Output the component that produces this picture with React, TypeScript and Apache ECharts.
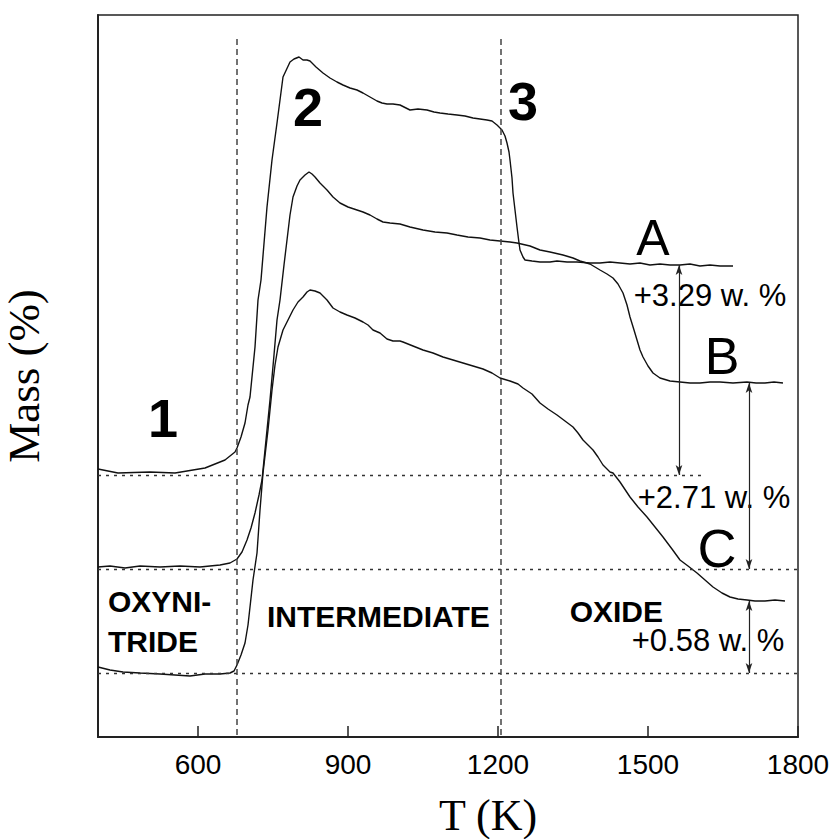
import React, { useEffect, useRef } from "react";
import * as echarts from "echarts";

// Temperature (K) and mass signal (arbitrary units)
const T_A = [400,440,504,554,614,654,674,678,686,694,700,704,714,720,726,738,748,758,770,784,792,802,810,818,824,836,850,864,878,890,904,918,930,944,958,968,978,990,1004,1024,1040,1058,1072,1084,1100,1118,1134,1150,1164,1178,1188,1198,1208,1214,1218,1222,1224,1228,1230,1234,1238,1242,1244,1250,1254,1268,1284,1304,1318,1338,1358,1384,1404,1424,1444,1464,1484,1504,1524,1544,1564,1584,1604,1624,1644,1670];
const M_A = [26.8,26.4,26.5,26.4,26.9,27.7,28.5,28.9,30.0,31.4,33.2,34.0,39.0,43.7,45.7,53.0,57.7,61.4,66.0,67.5,67.8,68.0,67.7,67.7,67.6,67.0,66.4,65.9,65.5,65.2,64.9,64.7,64.4,64.0,63.6,63.4,63.3,63.3,63.2,62.7,62.8,62.7,62.5,62.4,62.3,62.2,62.1,61.9,61.8,61.7,61.6,61.2,60.7,60.1,59.4,58.5,57.7,55.9,54.4,52.7,51.0,49.4,48.7,48.0,47.7,47.6,47.5,47.5,47.6,47.5,47.5,47.4,47.4,47.5,47.4,47.3,47.4,47.2,47.3,47.2,47.2,47.3,47.1,47.2,47.1,47.1];

const T_B = [400,424,454,484,524,564,604,644,664,678,688,698,706,714,722,728,736,744,752,758,764,772,778,784,790,798,804,814,822,828,834,844,858,870,884,900,918,930,944,958,970,984,1004,1024,1050,1074,1098,1118,1140,1164,1184,1204,1224,1238,1264,1284,1304,1330,1350,1364,1384,1404,1418,1430,1440,1450,1458,1464,1472,1478,1484,1490,1500,1510,1524,1544,1564,1584,1604,1624,1644,1670,1698,1716,1734,1752,1770];
const M_B = [17.0,17.1,16.9,17.1,17.0,17.1,17.0,17.2,17.4,17.8,18.5,19.7,20.9,22.4,24.2,25.7,29.7,33.7,38.2,41.7,43.7,47.2,49.7,52.2,54.0,55.1,55.7,56.2,56.5,56.3,56.0,55.4,54.7,54.0,53.4,53.0,52.7,52.5,52.2,51.8,51.5,51.4,51.3,51.0,50.7,50.5,50.4,50.2,50.0,49.9,49.7,49.6,49.5,49.4,49.1,48.7,48.5,48.2,47.9,47.6,47.3,46.7,46.3,45.9,45.3,44.4,43.2,42.0,40.7,39.7,38.7,38.0,37.1,36.4,35.9,35.6,35.5,35.4,35.4,35.5,35.5,35.4,35.5,35.4,35.4,35.5,35.4];

const T_C = [400,424,450,484,524,554,584,614,644,664,672,678,686,694,700,704,710,718,724,730,740,748,754,760,770,780,790,800,810,818,824,834,844,858,870,884,898,914,930,940,950,964,978,990,1004,1010,1030,1050,1070,1090,1110,1130,1150,1170,1188,1204,1224,1240,1250,1268,1284,1300,1318,1334,1350,1360,1370,1380,1390,1400,1410,1424,1430,1444,1464,1480,1498,1514,1530,1548,1564,1580,1598,1614,1630,1648,1664,1680,1698,1714,1734,1754,1774];
const M_C = [7.0,6.7,6.5,6.4,6.3,6.2,6.1,6.3,6.3,6.4,6.6,7.2,8.2,9.4,11.2,13.0,15.7,18.4,22.7,26.4,30.7,34.7,37.2,39.0,40.7,41.7,42.7,43.5,44.0,44.5,44.7,44.6,44.4,43.7,42.9,42.5,42.2,41.9,41.5,41.2,40.7,40.4,39.8,39.6,39.6,39.5,39.1,38.7,38.4,38.0,37.7,37.4,37.1,36.8,36.4,35.9,35.6,35.3,34.9,34.3,33.4,32.8,32.2,31.6,31.0,30.4,29.7,29.2,28.7,28.0,27.2,26.5,26.4,25.5,24.0,23.0,22.0,21.0,20.0,18.8,17.7,17.1,16.4,15.7,15.0,14.4,14.0,13.8,13.7,13.6,13.6,13.7,13.6];

const X_TICKS = [600, 900, 1200, 1500, 1800];
// Reference lines (data units)
const BASE_A = 26.2, BASE_B = 16.8, BASE_C = 6.4;
const BASE_A_END = 1608;
const STAGE_T = [678, 1206];
const DASH_TOP = 69.8;
// Mass-gain arrows: [T, from, to]
const ARROWS = [
  [1562, 47.2, BASE_A],
  [1702, 35.4, BASE_B],
  [1702, 13.6, BASE_C],
];
const GAINS = ["+3.29 w. %", "+2.71 w. %", "+0.58 w. %"];

const zip = (xs: number[], ys: number[]) => xs.map((x, i) => [x, ys[i]]);

export default function App() {
  const ref = useRef<HTMLDivElement>(null);
  useEffect(() => {
    const chart = echarts.init(ref.current!, null, { renderer: "svg" });
    const sans = "Liberation Sans, Arial, sans-serif";
    const serif = "Liberation Serif, Times New Roman, serif";
    const lineStyle = { color: "#111", width: 1.4 };
    const txt = (text: string, x: number, y: number, size: number, bold: boolean, align = "center") => ({
      type: "text",
      x,
      y,
      style: {
        text,
        fill: "#000",
        font: `${bold ? "bold " : ""}${size}px ${sans}`,
        textAlign: align,
        textVerticalAlign: "middle",
      },
    });
    chart.setOption({
      animation: false,
      backgroundColor: "#fff",
      grid: {
        left: 98,
        right: 40,
        top: 15,
        bottom: 102,
        outerBoundsMode: "none",
        containLabel: false,
        show: true,
        borderColor: "#222",
        borderWidth: 1.5,
      },
      xAxis: {
        type: "value",
        min: 400,
        max: 1800,
        name: "T (K)",
        nameLocation: "middle",
        nameGap: 56,
        nameTextStyle: { fontFamily: serif, fontSize: 44, color: "#000", padding: [0, 0, 0, 80] },
        axisLine: { show: true, lineStyle: { color: "#222", width: 2 } },
        axisTick: { show: true, inside: true, length: 11, customValues: X_TICKS, lineStyle: { color: "#222", width: 1.5 } },
        axisLabel: {
          customValues: X_TICKS,
          formatter: (v: number) => String(v),
          fontFamily: sans,
          fontSize: 28,
          color: "#000",
          margin: 13,
        },
        splitLine: { show: false },
      },
      yAxis: {
        type: "value",
        min: 0,
        max: 72.2,
        name: "Mass (%)",
        nameLocation: "middle",
        nameGap: 52,
        nameRotate: 90,
        nameTextStyle: { fontFamily: serif, fontSize: 45, color: "#000" },
        axisLine: { show: true, lineStyle: { color: "#222", width: 2 } },
        axisTick: { show: false },
        axisLabel: { show: false },
        splitLine: { show: false },
      },
      series: [
        {
          name: "A",
          type: "line",
          data: zip(T_A, M_A),
          showSymbol: false,
          lineStyle,
          z: 3,
          markLine: {
            silent: true,
            symbol: "none",
            label: { show: false },
            data: [
              [
                { coord: [400, BASE_A], lineStyle: { type: [3, 5], color: "#333", width: 1.3 } },
                { coord: [BASE_A_END, BASE_A] },
              ],
              [
                { coord: [400, BASE_B], lineStyle: { type: [3, 5], color: "#333", width: 1.3 } },
                { coord: [1800, BASE_B] },
              ],
              [
                { coord: [400, BASE_C], lineStyle: { type: [3, 5], color: "#333", width: 1.3 } },
                { coord: [1800, BASE_C] },
              ],
              ...STAGE_T.map((t) => [
                { coord: [t, DASH_TOP], lineStyle: { type: [6, 4], color: "#444", width: 1.5 } },
                { coord: [t, 0] },
              ]),
            ],
          },
        },
        {
          name: "B",
          type: "line",
          data: zip(T_B, M_B),
          showSymbol: false,
          lineStyle,
          z: 3,
          markLine: {
            silent: true,
            symbol: ["arrow", "arrow"],
            symbolSize: [5, 10],
            label: { show: false },
            lineStyle: { type: "solid", color: "#222", width: 1.2 },
            data: ARROWS.map(([t, a, b]) => [{ coord: [t, a] }, { coord: [t, b] }]),
          },
        },
        { name: "C", type: "line", data: zip(T_C, M_C), showSymbol: false, lineStyle, z: 3 },
      ],
      graphic: [
        txt("1", 163, 418, 54, true),
        txt("2", 308, 107, 54, true),
        txt("3", 523, 101, 54, true),
        txt("A", 653, 238, 50, false),
        txt("B", 722, 356, 52, false),
        txt("C", 717, 548, 54, false),
        txt(GAINS[0], 710, 295, 31, false),
        txt(GAINS[1], 714, 497, 31, false),
        txt(GAINS[2], 708, 640, 31, false),
        txt("OXYNI-", 108, 601, 30, true, "left"),
        txt("TRIDE", 108, 641, 30, true, "left"),
        txt("INTERMEDIATE", 267, 616, 30, true, "left"),
        txt("OXIDE", 663, 611, 30, true, "right"),
      ],
    });
    return () => chart.dispose();
  }, []);
  return <div ref={ref} style={{ position: "absolute", left: 0, top: 0, width: 838, height: 839 }} />;
}
